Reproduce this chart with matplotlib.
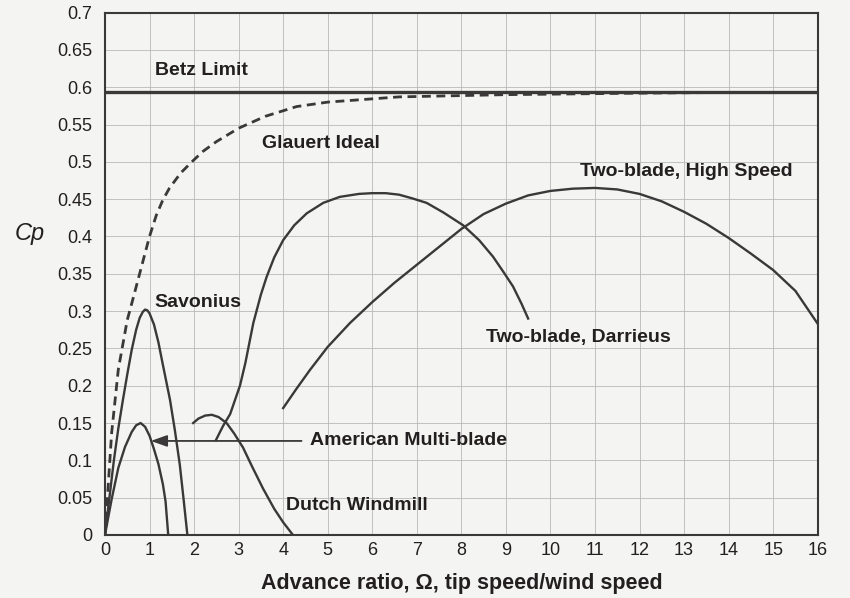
import matplotlib
matplotlib.use("Agg")
import matplotlib.pyplot as plt

plt.rcParams['font.family'] = ['Liberation Sans', 'DejaVu Sans']

# Power coefficient curves vs. advance ratio (tip speed / wind speed)
betz_cp = 0.593

glauert_x = [0, 0.15, 0.3, 0.5, 0.6, 0.8, 1.0, 1.15, 1.3, 1.45, 1.7, 1.95, 2.2, 2.5, 3.0, 3.6, 4.3, 5.0, 6.6, 9.0, 12.0, 14.0]
glauert_y = [0, 0.137, 0.222, 0.288, 0.31, 0.355, 0.40, 0.428, 0.449, 0.465, 0.485, 0.50, 0.514, 0.527, 0.545, 0.561, 0.574, 0.580, 0.587, 0.590, 0.592, 0.593]

savonius_x = [0, 0.1, 0.2, 0.3, 0.4, 0.5, 0.6, 0.7, 0.78, 0.85, 0.9, 0.95, 1.0, 1.1, 1.2, 1.3, 1.46, 1.57, 1.68, 1.77, 1.85]
savonius_y = [0, 0.05, 0.10, 0.143, 0.18, 0.215, 0.248, 0.275, 0.291, 0.299, 0.302, 0.301, 0.297, 0.282, 0.258, 0.228, 0.181, 0.14, 0.094, 0.045, 0]

multiblade_x = [0, 0.15, 0.3, 0.45, 0.6, 0.7, 0.8, 0.9, 1.0, 1.1, 1.2, 1.3, 1.36, 1.42]
multiblade_y = [0, 0.048, 0.09, 0.118, 0.138, 0.147, 0.150, 0.145, 0.133, 0.115, 0.095, 0.068, 0.045, 0]

dutch_x = [1.98, 2.1, 2.25, 2.4, 2.55, 2.73, 2.9, 3.1, 3.3, 3.55, 3.8, 4.0, 4.22]
dutch_y = [0.150, 0.156, 0.160, 0.161, 0.158, 0.150, 0.136, 0.117, 0.092, 0.062, 0.035, 0.017, 0]

darrieus_x = [2.49, 2.65, 2.81, 3.03, 3.15, 3.33, 3.5, 3.63, 3.8, 4.0, 4.25, 4.53, 4.9, 5.27, 5.7, 6.0, 6.3, 6.6,
              6.9, 7.22, 7.6, 8.04, 8.4, 8.71, 8.95, 9.16, 9.35, 9.5]
darrieus_y = [0.127, 0.146, 0.162, 0.20, 0.23, 0.284, 0.322, 0.346, 0.372, 0.395, 0.415, 0.431, 0.445, 0.453,
              0.457, 0.458, 0.458, 0.456, 0.451, 0.445, 0.432, 0.415, 0.395, 0.373, 0.352, 0.333, 0.31, 0.29]

highspeed_x = [4.0, 4.3, 4.6, 5.0, 5.5, 6.0, 6.5, 7.0, 7.5, 8.0, 8.5, 9.0, 9.5, 10.0, 10.5, 11.0, 11.5,
               12.0, 12.5, 13.0, 13.5, 14.0, 14.5, 15.0, 15.5, 16.0]
highspeed_y = [0.170, 0.196, 0.221, 0.252, 0.284, 0.312, 0.338, 0.362, 0.386, 0.410, 0.430, 0.444, 0.455,
               0.461, 0.464, 0.465, 0.463, 0.457, 0.447, 0.433, 0.417, 0.398, 0.377, 0.355, 0.327, 0.283]

x_ticks = list(range(0, 17))
y_ticks = [0, 0.05, 0.1, 0.15, 0.2, 0.25, 0.3, 0.35, 0.4, 0.45, 0.5, 0.55, 0.6, 0.65, 0.7]
y_tick_labels = ['0', '0.05', '0.1', '0.15', '0.2', '0.25', '0.3', '0.35', '0.4', '0.45', '0.5', '0.55',
                 '0.6', '0.65', '0.7']

bg = '#f4f4f3'
ink = '#3a3838'
txt = '#231f20'

fig = plt.figure(figsize=(8.5, 5.98), dpi=100, facecolor=bg)
ax = fig.add_axes([0.1235, 0.1054, 0.8385, 0.8736], facecolor=bg)

ax.set_xlim(0, 16)
ax.set_ylim(0, 0.7)
ax.set_xticks(x_ticks)
ax.set_yticks(y_ticks)
ax.set_yticklabels(y_tick_labels)
ax.tick_params(axis='both', length=0, labelsize=13, colors=txt)
ax.tick_params(axis='x', pad=5)
ax.tick_params(axis='y', pad=9)
ax.grid(True, color='#b9b9b9', linewidth=0.6)
ax.set_axisbelow(True)
for s in ax.spines.values():
    s.set_color(ink)
    s.set_linewidth(1.5)

lw = 1.7
ax.axhline(betz_cp, color=ink, linewidth=2.4)
ax.plot(glauert_x, glauert_y, color=ink, linewidth=2.0, linestyle=(0, (3.2, 2.0)))
ax.plot(savonius_x, savonius_y, color=ink, linewidth=lw)
ax.plot(multiblade_x, multiblade_y, color=ink, linewidth=lw)
ax.plot(dutch_x, dutch_y, color=ink, linewidth=lw)
ax.plot(darrieus_x, darrieus_y, color=ink, linewidth=lw)
ax.plot(highspeed_x, highspeed_y, color=ink, linewidth=lw)

lab = dict(fontsize=14, fontweight='bold', color=txt, va='center', ha='left')
ax.text(1.12, 0.623, 'Betz Limit', **lab)
ax.text(3.52, 0.525, 'Glauert Ideal', **lab)
ax.text(10.66, 0.487, 'Two-blade, High Speed', **lab)
ax.text(1.12, 0.312, 'Savonius', **lab)
ax.text(8.55, 0.264, 'Two-blade, Darrieus', **lab)
ax.text(4.06, 0.039, 'Dutch Windmill', **lab)
ax.annotate('American Multi-blade', xy=(1.03, 0.126), xytext=(4.6, 0.126),
            arrowprops=dict(arrowstyle='-|>,head_length=0.7,head_width=0.25', color=ink,
                            linewidth=1.3, shrinkA=4, shrinkB=0),
            **lab)

ax.set_xlabel('Advance ratio, Ω, tip speed/wind speed', fontsize=15.5, fontweight='bold',
              color=txt, labelpad=10)
ax.set_ylabel('Cp', fontsize=17, style='italic', color=txt, rotation=0)
ax.yaxis.set_label_coords(-0.105, 0.555)

fig.savefig('out.png', dpi=100, facecolor=bg)
